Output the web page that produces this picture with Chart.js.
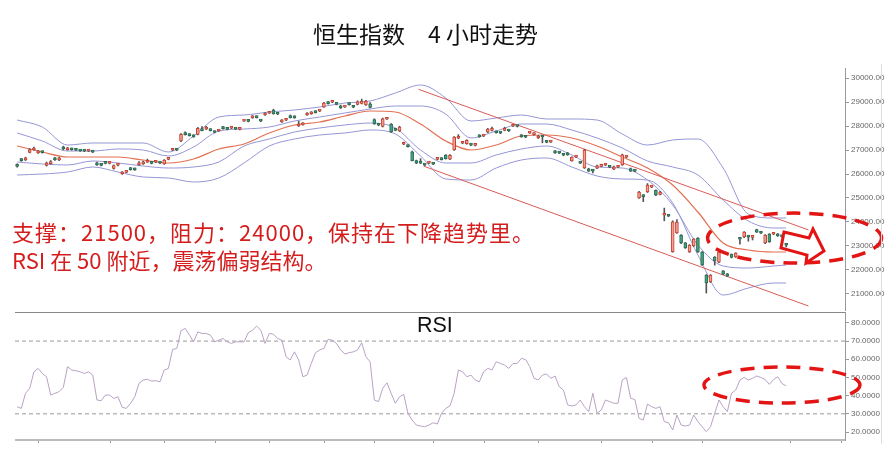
<!DOCTYPE html>
<html lang="zh">
<head>
<meta charset="utf-8">
<title>恒生指数 4小时走势</title>
<script src="https://cdn.jsdelivr.net/npm/chart.js@4.4.1/dist/chart.umd.min.js"></script>
<style>
  body { margin: 0; background: #fff; }
  #wrap { position: relative; width: 891px; height: 473px; overflow: hidden; }
  canvas { position: absolute; left: 0; top: 0; }
  .title { position: absolute; left: 313px; top: 20px; font: 23px/26px "Noto Sans CJK SC", sans-serif; color: #111; white-space: pre; }
  .note { position: absolute; left: 12px; font: 22px/28px "Noto Sans CJK SC", sans-serif; color: #d41e1e; white-space: pre; }
  .note.l1 { top: 217px; letter-spacing: 1px; }
  .note.l2 { top: 245px; }
  .rsi-label { position: absolute; left: 417px; top: 315px; font: 21.5px/21.5px "Liberation Sans", Arial, sans-serif; color: #111; }
  .frame { position: absolute; left: 881px; top: 64px; width: 1px; height: 380px; background: #ddd; }
</style>
</head>
<body>
<div id="wrap">
  <canvas id="main" width="891" height="473"></canvas>
  <canvas id="rsi" width="891" height="473"></canvas>
  <div class="frame"></div>
  <div class="title">恒生指数　4 小时走势</div>
  <div class="note l1">支撑：21500，阻力：24000，保持在下降趋势里。</div>
  <div class="note l2">RSI 在 50 附近，震荡偏弱结构。</div>
  <div class="rsi-label">RSI</div>
</div>
<script>
// 4h candles, left to right
const opens = [
  26360,26600,26590,26900,27000,26880,26940,26360,26430,26660,
  26590,27130,27010,27060,27010,26970,26960,26950,26930,26470,
  26400,26480,26440,26230,26370,26010,26070,26240,26230,26380,
  26420,26490,26460,26490,26470,26420,26610,26990,27010,27380,
  27700,27650,27610,27650,27860,27870,27860,27780,27790,27960,
  27880,27910,27890,27860,28200,28210,28340,28400,28220,28460,
  28530,28660,28510,28170,28240,28420,28400,28000,28050,28460,
  28510,28600,28620,28790,28990,28990,28940,28840,28790,28960,
  28800,28900,28940,28880,28920,28270,28050,27980,28280,28080,
  27840,27790,27240,27200,26920,26560,26470,26400,26450,26430,
  26610,26660,26790,26620,27000,27490,27280,27260,27220,27190,
  27610,27580,27740,27820,27780,27720,27820,27810,27990,28000,
  27620,27550,27700,27640,27500,27560,27340,27330,26960,26890,
  26800,26860,26550,26700,26470,26250,26220,26140,26240,26320,
  26370,26300,26200,26280,26380,26700,26230,26140,25000,25100,
  25250,25450,25320,25150,24280,24260,22760,23540,23460,23130,
  22750,23000,23330,22750,21790,21500,22540,22330,21960,21840,
  22650,22540,23300,23375,23390,23360,23680,23550,23125,23500,
  23490,23500,23420,23050
];
const closes = [
  26320,26560,26660,27020,27080,26950,26890,26460,26500,26590,
  26670,27040,27070,27010,26990,26960,26950,26970,26910,26380,
  26360,26440,26460,26350,26390,26070,26090,26180,26170,26450,
  26500,26510,26440,26510,26450,26580,26630,27010,26990,27650,
  27640,27600,27550,27900,27810,27890,27810,27730,27810,27890,
  27860,27930,27870,27880,28220,28190,28410,28350,28200,28530,
  28550,28510,28490,28240,28260,28350,28340,28080,28110,28530,
  28570,28560,28640,28960,28930,29010,28900,28750,28810,28890,
  28780,29010,28960,29040,28770,28090,28030,28300,28300,27750,
  27820,27960,27260,27140,26560,26450,26450,26370,26470,26410,
  26630,26600,26640,26780,27540,27510,27300,27400,27200,27210,
  27550,27600,27870,27840,27720,27700,27840,27790,28010,27980,
  27550,27530,27720,27700,27580,27540,27320,27350,26880,26870,
  26780,26800,26700,26720,26450,27000,26120,26120,26340,26340,
  26390,26280,26300,26300,26800,26720,26120,26120,25250,25060,
  25540,25470,25120,25250,24300,24240,24010,24000,23130,22920,
  23040,23290,22750,22210,21460,21790,22380,22750,21830,21740,
  22520,22700,23280,23580,23370,23380,23580,23530,23460,23170,
  23510,23420,23390,23030
];
const highs = [
  26420,26650,26700,27060,27120,26990,26960,26500,26560,26690,
  26700,27160,27110,27080,27030,26990,26980,27000,26960,26500,
  26430,26500,26490,26380,26430,26100,26120,26270,26250,26520,
  26540,26620,26480,26530,26490,26600,26650,27050,27040,27680,
  27760,27680,27640,27940,27980,27990,27890,27800,27830,27990,
  27900,27960,27910,27900,28240,28230,28440,28420,28240,28560,
  28580,28700,28530,28270,28290,28460,28430,28200,28140,28560,
  28600,28630,28660,28990,29030,29040,28960,28870,28830,28990,
  28820,29050,29120,29070,28980,28300,28070,28330,28330,28100,
  27860,27990,27330,27220,26950,26580,26640,26420,26510,26450,
  26660,26680,26810,26810,27560,27640,27320,27430,27240,27230,
  27640,27620,27900,27950,27800,27740,27950,27830,28040,28020,
  27650,27570,27740,27730,27610,27580,27360,27370,26990,26910,
  26820,26900,26720,26740,26490,27030,26240,26160,26370,26410,
  26420,26320,26330,26320,26830,26740,26250,26160,25280,25130,
  25600,25500,25340,25280,24580,24280,24050,24100,23480,23150,
  23060,23310,23350,22770,21810,21810,22560,22770,21980,21860,
  22670,22720,23320,23600,23410,23400,23700,23570,23480,23520,
  23530,23520,23440,23070
];
const lows = [
  26280,26530,26560,26880,26980,26860,26870,26330,26410,26570,
  26560,27010,26990,26990,26970,26940,26930,26930,26890,26360,
  26340,26420,26420,26200,26340,25980,26050,26160,26150,26360,
  26400,26480,26420,26470,26430,26400,26590,26970,26970,27350,
  27620,27580,27530,27630,27790,27850,27790,27710,27770,27870,
  27840,27890,27850,27840,28190,28170,28320,28330,28180,28440,
  28520,28490,28470,28150,28220,28330,28320,27980,28030,28440,
  28490,28540,28600,28770,28910,28970,28880,28730,28770,28870,
  28760,28880,28920,28860,28750,28070,28010,27960,28270,27730,
  27800,27770,27220,27120,26540,26430,26430,26350,26430,26390,
  26590,26580,26620,26600,26980,27470,27260,27240,27180,27170,
  27530,27560,27720,27800,27700,27680,27800,27770,27970,27960,
  27530,27510,27690,27620,27480,27300,27300,27310,26860,26850,
  26760,26780,26530,26680,26430,26230,26100,26050,26220,26300,
  26350,26260,26180,26260,26360,26680,26100,26100,24980,24850,
  25230,25430,25100,25130,24050,24220,22740,23520,23100,22900,
  22730,22980,22730,22190,21040,21480,22200,22310,21810,21720,
  22500,22520,23080,23350,23200,23250,23560,23510,23100,23150,
  23470,23400,23370,22960
];

// band lines, read every 6 bars
const bandIdx = [0,6,12,18,24,30,36,42,48,54,60,66,72,78,84,90,96,102,108,114,120,126,132,138,144,150,156,162,168,174,180,183];
const bandUpper2 = [28250,27958,27208,27292,27292,27292,26917,27583,28375,28458,28583,28667,28792,28958,29042,29375,29708,29167,28208,28333,28458,28292,28292,28250,27667,27208,27417,27458,26250,24333,24167,24167];
const bandUpper1 = [27708,27375,26958,26958,27042,27000,26750,27125,27792,27875,27958,28208,28375,28542,28708,28833,28833,28500,27500,27792,28083,28083,27833,27500,27083,26542,26292,25958,24917,24042,23750,23750];
const bandMid    = [27167,26917,26708,26708,26708,26583,26458,26625,27042,27250,27708,28042,28167,28417,28625,28583,28083,27375,27000,27208,27583,27625,27500,27167,26708,26250,25542,24417,23125,22833,22750,22750];
const bandLower1 = [26500,26417,26375,26542,26458,26333,26250,26292,26500,27167,27458,27750,27917,28042,28125,27917,27000,26458,26458,26792,27042,27167,26792,26292,26250,25750,24708,23042,22167,22083,22167,22208];
const bandLower2 = [25958,26000,26083,26292,26083,25875,25833,25667,25833,26458,27167,27458,27625,27708,27833,27667,26750,25792,25750,26250,26583,26667,26292,25917,25792,25750,24792,22625,20958,21250,21458,21458];

// downtrend channel
const trendUpperIdx = [95.5, 188.3];
const trendUpperVal = [29530, 23670];
const trendLowerIdx = [96.7, 188.3];
const trendLowerVal = [26330, 20500];

const rsiValues = [
  33.9,33.0,41.3,44.0,53.1,55.0,52.2,50.4,40.3,41.3,
  42.2,44.6,55.9,54.1,53.7,53.1,52.2,53.1,51.3,37.6,
  37.2,40.3,40.3,38.5,39.4,33.6,33.0,35.8,39.4,46.7,
  48.6,49.0,48.0,48.2,47.6,54.1,55.0,65.4,66.0,75.7,
  77.0,73.3,69.6,75.1,74.2,74.2,73.3,69.6,70.5,71.4,
  69.6,68.7,69.6,69.6,69.6,74.6,76.0,78.2,76.0,68.7,
  74.2,73.8,71.4,70.5,61.4,59.6,64.1,59.6,50.4,51.3,
  57.7,63.6,65.1,66.0,70.9,70.5,68.7,65.1,62.9,63.6,
  64.1,65.1,69.1,61.4,58.6,37.6,36.7,44.0,47.1,41.3,
  35.8,39.4,40.7,30.3,26.6,23.8,23.3,22.9,23.8,25.1,
  24.4,30.3,33.0,34.3,41.3,54.1,53.1,50.4,51.3,48.6,
  47.6,53.1,55.0,54.1,58.6,57.7,56.8,55.0,57.7,57.7,
  60.5,59.9,55.9,49.5,48.6,51.3,51.9,49.5,50.8,44.9,
  43.1,34.9,34.3,34.9,37.6,33.9,31.2,41.3,30.3,32.1,
  37.6,36.7,35.8,35.8,48.6,50.0,38.5,37.9,27.5,26.6,
  35.4,33.9,33.0,33.9,25.7,25.1,21.1,29.3,23.8,23.3,
  23.8,29.3,25.7,22.9,20.2,22.9,30.3,37.6,33.9,31.2,
  41.3,43.1,48.6,50.0,48.6,49.5,50.8,50.0,48.9,46.2,
  48.9,50.4,46.7,45.3
];
const rsiLevels = [70, 30];

const priceTicks = [21000,22000,23000,24000,25000,26000,27000,28000,29000,30000];
const rsiTicks = [20,30,40,50,60,70,80];
const dateTickIdx = [5,22,35,47,60,73,85,99,111,124,139,151,163,184,196];

// where the hand-drawn marks sit
const ringIdx = 185, ringPrice = 23330;
const arrowIdx = 192, arrowPrice = 22790;
const rsiRingIdx = 182, rsiRingValue = 45.8;

const xMin = -0.5, xMax = 197;
const purple = 'rgb(150,150,214)';
const upFill = '#eea192', upLine = '#c8402f';
const downFill = '#3fa57c', downLine = '#2d6b54';

const points = (xs, ys) => xs.map((x, i) => ({ x: x, y: ys[i] }));
const isUp = i => closes[i] >= opens[i];

function bandSet(vals, color, width) {
  return {
    type: 'line', data: points(bandIdx, vals),
    borderColor: color, borderWidth: width, pointRadius: 0,
    cubicInterpolationMode: 'monotone', order: 5
  };
}

function rightAxis(min, max, ticks, digits) {
  return {
    position: 'right', min: min, max: max,
    afterBuildTicks: s => { s.ticks = ticks.map(v => ({ value: v })); },
    afterFit: s => { s.width = 46; },
    ticks: {
      callback: v => Number(v).toFixed(digits),
      color: '#666', padding: 2,
      font: { family: 'Liberation Sans', size: 8 }
    },
    grid: { drawOnChartArea: false, tickLength: 4, color: '#999' },
    border: { color: '#999' }
  };
}

const handMarks = {
  id: 'handMarks',
  afterDraw(chart) {
    const { ctx, scales: { x, y } } = chart;
    ctx.save();
    ctx.strokeStyle = '#e31414';
    ctx.lineWidth = 3.5;
    ctx.setLineDash([14, 9]);
    ctx.beginPath();
    ctx.ellipse(x.getPixelForValue(ringIdx), y.getPixelForValue(ringPrice), 87, 25, 0, 0, Math.PI * 2);
    ctx.stroke();

    // hollow arrow pointing right
    const tx = x.getPixelForValue(arrowIdx), ty = y.getPixelForValue(arrowPrice);
    const shape = [[-40,-19],[-15,-13],[-11,-22],[0,0],[-18,12],[-17,4],[-43,-3]];
    ctx.setLineDash([]);
    ctx.lineWidth = 3;
    ctx.lineJoin = 'miter';
    ctx.beginPath();
    shape.forEach(([dx, dy], i) => i ? ctx.lineTo(tx + dx, ty + dy) : ctx.moveTo(tx + dx, ty + dy));
    ctx.closePath();
    ctx.stroke();
    ctx.restore();
  }
};

const rsiFrame = {
  id: 'rsiFrame',
  afterDraw(chart) {
    const { ctx, chartArea: a, scales: { x, y } } = chart;
    ctx.save();
    ctx.strokeStyle = '#888';
    ctx.lineWidth = 1;
    ctx.beginPath();
    ctx.moveTo(a.left, a.top + 0.5);
    ctx.lineTo(a.right, a.top + 0.5);
    ctx.stroke();
    ctx.strokeStyle = '#bbb';
    ctx.lineWidth = 2;
    ctx.beginPath();
    ctx.moveTo(a.left, a.bottom);
    ctx.lineTo(a.right, a.bottom);
    ctx.stroke();
    ctx.lineWidth = 1;
    ctx.strokeStyle = '#999';
    dateTickIdx.forEach(i => {
      const px = Math.round(x.getPixelForValue(i)) + 0.5;
      ctx.beginPath();
      ctx.moveTo(px, a.bottom + 1);
      ctx.lineTo(px, a.bottom + 3);
      ctx.stroke();
    });

    ctx.strokeStyle = '#e31414';
    ctx.lineWidth = 3.5;
    ctx.setLineDash([14, 9]);
    ctx.beginPath();
    ctx.ellipse(x.getPixelForValue(rsiRingIdx), y.getPixelForValue(rsiRingValue), 78, 18, 0, 0, Math.PI * 2);
    ctx.stroke();
    ctx.restore();
  }
};

new Chart(document.getElementById('main'), {
  type: 'bar',
  data: {
    datasets: [
      bandSet(bandUpper2, purple, 1),
      bandSet(bandUpper1, purple, 1),
      bandSet(bandMid, 'rgb(226,112,82)', 1.2),
      bandSet(bandLower1, purple, 1),
      bandSet(bandLower2, purple, 1),
      {
        type: 'line', data: points(trendUpperIdx, trendUpperVal),
        borderColor: '#d95c57', borderWidth: 1, pointRadius: 0, order: 4
      },
      {
        type: 'line', data: points(trendLowerIdx, trendLowerVal),
        borderColor: '#d95c57', borderWidth: 1, pointRadius: 0, order: 4
      },
      {
        label: 'wick', data: lows.map((l, i) => ({ x: i, y: [l, highs[i]] })),
        backgroundColor: '#555', barThickness: 1, grouped: false, order: 2
      },
      {
        label: 'body', data: opens.map((o, i) => ({ x: i, y: [o, closes[i]] })),
        backgroundColor: c => isUp(c.dataIndex) ? upFill : downFill,
        borderColor: c => isUp(c.dataIndex) ? upLine : downLine,
        borderWidth: 1, borderSkipped: false,
        barThickness: 3, minBarLength: 2, grouped: false, order: 1
      }
    ]
  },
  options: {
    responsive: false,
    animation: false,
    devicePixelRatio: 1,
    layout: { padding: { left: 15, top: 68, right: 0, bottom: 163 } },
    plugins: { legend: { display: false }, tooltip: { enabled: false } },
    scales: {
      x: { type: 'linear', min: xMin, max: xMax, offset: false, display: false },
      y: rightAxis(20333, 30417, priceTicks, 2)
    }
  },
  plugins: [handMarks]
});

new Chart(document.getElementById('rsi'), {
  type: 'line',
  data: {
    datasets: [
      {
        data: rsiValues.map((v, i) => ({ x: i, y: v })),
        borderColor: '#b9a2c4', borderWidth: 1, pointRadius: 0, tension: 0
      },
      ...rsiLevels.map(l => ({
        data: [{ x: xMin, y: l }, { x: xMax, y: l }],
        borderColor: '#9a9a9a', borderWidth: 1, borderDash: [4, 3], pointRadius: 0
      }))
    ]
  },
  options: {
    responsive: false,
    animation: false,
    devicePixelRatio: 1,
    layout: { padding: { left: 15, top: 312, right: 0, bottom: 33 } },
    plugins: { legend: { display: false }, tooltip: { enabled: false } },
    scales: {
      x: { type: 'linear', min: xMin, max: xMax, display: false },
      y: rightAxis(15.6, 86, rsiTicks, 4)
    }
  },
  plugins: [rsiFrame]
});
</script>
</body>
</html>
